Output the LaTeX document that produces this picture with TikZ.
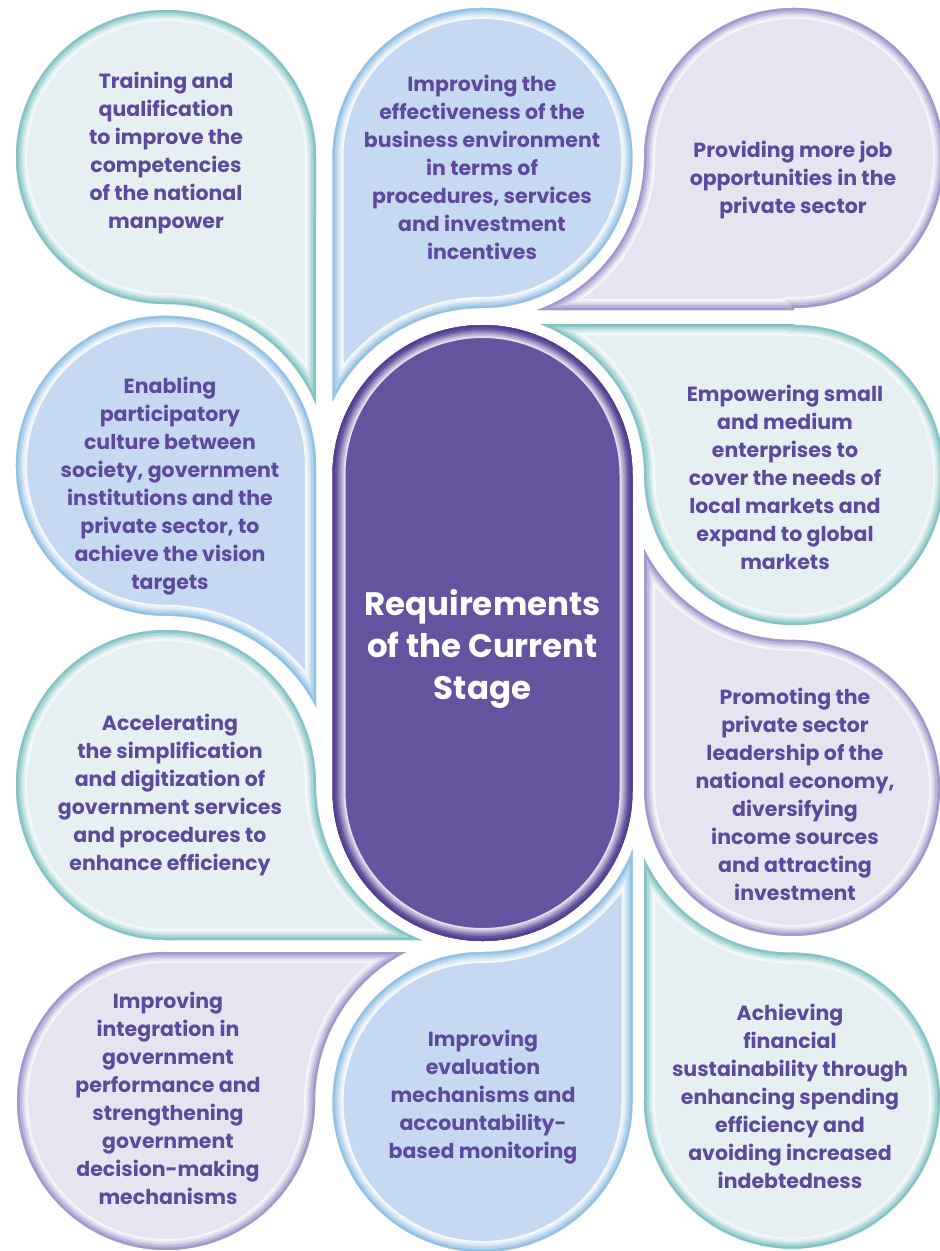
\documentclass[tikz,border=0pt]{standalone}
\usepackage{fontspec}
\setmainfont{Poppins}
\definecolor{txtc}{HTML}{5E4A9C}
\definecolor{tealO}{HTML}{86C4C6}
\definecolor{tealF}{HTML}{E6F0F3}
\definecolor{blueO}{HTML}{94C2E4}
\definecolor{blueF}{HTML}{C5D9F1}
\definecolor{lavO}{HTML}{A199CC}
\definecolor{lavF}{HTML}{E5E5F2}
\definecolor{purF}{HTML}{6653A0}
\definecolor{purO}{HTML}{54408C}
\newcommand{\bevelshape}[3]{%
 \begin{scope}
  \clip #1;
  \fill[#3] #1;
  \draw[line width=22pt, #2!10!white] #1;
  \draw[line width=18pt, #2!25!white] #1;
  \draw[line width=14pt, #2!45!white] #1;
  \draw[line width=10pt, #2!70!white] #1;
  \draw[line width=5pt, #2] #1;
 \end{scope}}
\newcommand{\bevelcentre}[1]{%
 \begin{scope}
  \clip #1;
  \fill[purF] #1;
  \draw[line width=26pt, purF!20!white] #1;
  \draw[line width=22pt, purF!40!white] #1;
  \draw[line width=18pt, purF!60!white] #1;
  \draw[line width=14pt, purF!80!white] #1;
  \draw[line width=10pt, purF] #1;
  \draw[line width=5pt, purO] #1;
 \end{scope}}
\tikzset{
  txt/.style={text=txtc, font=\fontsize{20.5}{28}\selectfont\bfseries, align=center, inner sep=0pt},
  ctxt/.style={text=white, font=\fontsize{32.5}{42}\selectfont\bfseries, align=center, inner sep=0pt}
}
\begin{document}
\begin{tikzpicture}[x=1pt,y=-1pt]
\useasboundingbox (0,0) rectangle (940,1251);
\fill[white] (0,0) rectangle (940,1251);
% B1 training (teal)
\bevelshape{(316,157) arc[start angle=0, end angle=-270, x radius=150, y radius=147] arc[start angle=-90, end angle=-22.2, radius=162] -- cycle}{tealO}{tealF}
% B2 business environment (blue)
\bevelshape{(332.5,158) -- (332.5,401.5) arc[start angle=-153.9, end angle=-90, radius=167] arc[start angle=90, end angle=-180, radius=150] -- cycle}{blueO}{blueF}
% B3 job opportunities (lavender)
\bevelshape{(794,310) -- (537,310) arc[start angle=70.3, end angle=0, radius=161.5] arc[start angle=180, end angle=450, radius=150] -- cycle}{lavO}{lavF}
% B4 SMEs (teal)
\bevelshape{(794,324) -- (540,324) arc[start angle=-69.2, end angle=0, radius=161.5] arc[start angle=180, end angle=-90, radius=150] -- cycle}{tealO}{tealF}
% B5 private sector leadership (lavender)
\bevelshape{(644,788) -- (644,549) arc[start angle=153.1, end angle=90, radius=166] arc[start angle=-90, end angle=180, radius=148] -- cycle}{lavO}{lavF}
% B6 participatory culture (blue)
\bevelshape{(316,466) -- (316,707) arc[start angle=-27.4, end angle=-90, radius=169] arc[start angle=90, end angle=360, radius=150] -- cycle}{blueO}{blueF}
% B7 accelerating (teal)
\bevelshape{(166,940) arc[start angle=90, end angle=360, x radius=150, y radius=155] arc[start angle=180, end angle=111.4, radius=166.5] -- cycle}{tealO}{tealF}
% B8 integration (lavender)
\bevelshape{(166,952) -- (406,952) arc[start angle=242.8, end angle=180, radius=167.5] arc[start angle=0, end angle=270, radius=149] -- cycle}{lavO}{lavF}
% B9 evaluation (blue)
\bevelshape{(482.5,952) arc[start angle=90, end angle=21.3, radius=161] -- (632.5,1102) arc[start angle=0, end angle=270, radius=150] -- cycle}{blueO}{blueF}
% B10 financial sustainability (teal)
\bevelshape{(644,1101) -- (644,858) arc[start angle=155.2, end angle=90, radius=163] arc[start angle=-90, end angle=180, radius=148] -- cycle}{tealO}{tealF}
% centre
\bevelcentre{(332.5,475) arc[start angle=180, end angle=360, radius=150] -- (632.5,791) arc[start angle=0, end angle=180, radius=150] -- cycle}

\node[txt] (t1) at (166,153) {Training and\\qualification\\to improve the\\competencies\\of the national\\manpower};
\node[txt] (t2) at (482,167) {Improving the\\effectiveness of the\\business environment\\in terms of\\procedures, services\\and investment\\incentives};
\node[txt] (t3) at (793,180) {Providing more job\\opportunities in the\\private sector};
\node[txt] (t4) at (785,477) {Empowering small\\and medium\\enterprises to\\cover the needs of\\local markets and\\expand to global\\markets};
\node[txt] (t5) at (795,794) {Promoting the\\private sector\\leadership of the\\national economy,\\diversifying\\income sources\\and attracting\\investment};
\node[txt] (t6) at (170,486) {Enabling\\participatory\\culture between\\society, government\\institutions and the\\private sector, to\\achieve the vision\\targets};
\node[txt] (t7) at (170,795) {Accelerating\\the simplification\\and digitization of\\government services\\and procedures to\\enhance efficiency};
\node[txt] (t8) at (168,1098) {Improving\\integration in\\government\\performance and\\strengthening\\government\\decision-making\\mechanisms};
\node[txt] (t9) at (483,1097) {Improving\\evaluation\\mechanisms and\\accountability-\\based monitoring};
\node[txt] (t10) at (790,1096) {Achieving\\financial\\sustainability through\\enhancing spending\\efficiency and\\avoiding increased\\indebtedness};
\node[ctxt] (c) at (482.5,649) {Requirements\\of the Current\\Stage};
\end{tikzpicture}
\end{document}
